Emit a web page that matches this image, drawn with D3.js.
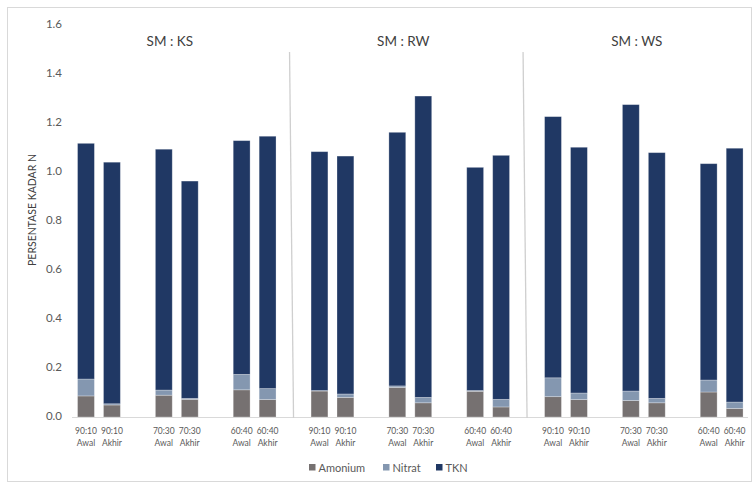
<!DOCTYPE html>
<html>
<head>
<meta charset="utf-8">
<script src="https://cdn.jsdelivr.net/npm/d3@7"></script>
<style>
  html, body { margin: 0; padding: 0; background: #fff; }
  svg { display: block; font-family: Lato, "Open Sans", "Liberation Sans", sans-serif; }
</style>
</head>
<body>
<svg id="chart" width="755" height="486"></svg>
<script>
// Media groups and treatment labels
const groups = ["SM : KS", "SM : RW", "SM : WS"];
const ratios = ["90:10", "90:10", "70:30", "70:30", "60:40", "60:40"];
const phases = ["Awal", "Akhir", "Awal", "Akhir", "Awal", "Akhir"];
const seriesNames = ["Amonium", "Nitrat", "TKN"];

// Stacked segment values (% N), 6 bars per group, groups in order KS, RW, WS
const amonium = [0.086, 0.049, 0.089, 0.072, 0.111, 0.071,
                 0.106, 0.080, 0.121, 0.058, 0.105, 0.041,
                 0.083, 0.071, 0.067, 0.058, 0.102, 0.035];
const nitrat  = [0.069, 0.005, 0.021, 0.004, 0.063, 0.045,
                 0.002, 0.014, 0.006, 0.022, 0.003, 0.031,
                 0.077, 0.027, 0.039, 0.018, 0.049, 0.026];
const tkn     = [0.962, 0.986, 0.983, 0.887, 0.954, 1.030,
                 0.975, 0.971, 1.035, 1.230, 0.911, 0.996,
                 1.066, 1.003, 1.169, 1.003, 0.883, 1.036];
const yTicks = [0, 0.2, 0.4, 0.6, 0.8, 1.0, 1.2, 1.4, 1.6];

const colors = { Amonium: "#767171", Nitrat: "#8497B0", TKN: "#203864" };

// Build the category slots: pairs of bars separated by empty slots,
// with an empty slot (holding the divider) between groups.
const slots = [];
const bars = [];
const dividerSlots = [];
groups.forEach((g, gi) => {
  ratios.forEach((r, j) => {
    const i = gi * 6 + j;
    const id = "b" + i;
    slots.push(id);
    bars.push({ id, group: g, ratio: r, phase: phases[j],
      Amonium: amonium[i], Nitrat: nitrat[i], TKN: tkn[i] });
    if (j % 2 === 1 && j < 5) slots.push("gap" + gi + "_" + j);
  });
  if (gi < groups.length - 1) {
    const d = "div" + gi;
    slots.push(d);
    dividerSlots.push(d);
  }
});

const svg = d3.select("#chart");
const W = 755, H = 486;

// Outer frame
svg.append("rect")
  .attr("x", 7.5).attr("y", 7.5)
  .attr("width", 744).attr("height", 474)
  .attr("fill", "none").attr("stroke", "#d9d9d9").attr("stroke-width", 1);

const x = d3.scaleBand()
  .domain(slots)
  .range([73, 747.6])
  .paddingInner(0.35)
  .paddingOuter(0.175);

const y = d3.scaleLinear().domain([0, 1.6]).range([417, 25]);

// Y axis labels
const yAxis = svg.append("g").attr("transform", "translate(62,0)")
  .call(d3.axisLeft(y).tickValues(yTicks).tickFormat(d3.format(".1f")).tickSize(0).tickPadding(0));
yAxis.select(".domain").remove();
yAxis.selectAll("text")
  .attr("fill", "#595959")
  .attr("font-size", "11.5px")
  .attr("dy", "0.2em")
  .attr("font-family", "Lato, 'Open Sans', sans-serif");

// Y axis title
svg.append("text")
  .attr("transform", "translate(36,210) rotate(-90)")
  .attr("text-anchor", "middle")
  .attr("fill", "#404040")
  .attr("font-size", "10.5px")
  .text("PERSENTASE KADAR N");

// Stacked bars
const stack = d3.stack().keys(seriesNames);
const stacked = stack(bars);
svg.append("g").selectAll("g")
  .data(stacked)
  .join("g")
  .attr("fill", d => colors[d.key])
  .selectAll("rect")
  .data(d => d)
  .join("rect")
  .attr("x", d => x(d.data.id))
  .attr("width", x.bandwidth())
  .attr("y", d => y(d[1]))
  .attr("height", d => y(d[0]) - y(d[1]))
  .attr("stroke", "#ffffff")
  .attr("stroke-opacity", 0.35)
  .attr("stroke-width", 0.8);

// Baseline
svg.append("line")
  .attr("x1", 72).attr("x2", 748)
  .attr("y1", y(0) + 0.5).attr("y2", y(0) + 0.5)
  .attr("stroke", "#d9d9d9").attr("stroke-width", 1);

// Category labels (two lines)
const xl = svg.append("g").selectAll("text")
  .data(bars)
  .join("text")
  .attr("x", d => x(d.id) + x.bandwidth() / 2)
  .attr("y", 434)
  .attr("text-anchor", "middle")
  .attr("fill", "#595959")
  .attr("font-size", "8.5px");
xl.append("tspan").attr("x", d => x(d.id) + x.bandwidth() / 2).text(d => d.ratio);
xl.append("tspan").attr("x", d => x(d.id) + x.bandwidth() / 2).attr("dy", 11.5).text(d => d.phase);

// Group dividers
svg.append("g").selectAll("line")
  .data(dividerSlots)
  .join("line")
  .attr("x1", d => x(d) + x.bandwidth() / 2 - 4)
  .attr("x2", d => x(d) + x.bandwidth() / 2)
  .attr("y1", 52)
  .attr("y2", y(0) + 1)
  .attr("stroke", "#cfcfcf").attr("stroke-width", 1.3);

// Group titles
svg.append("g").selectAll("text")
  .data(groups)
  .join("text")
  .attr("x", (g, gi) => {
    const first = x("b" + gi * 6), last = x("b" + (gi * 6 + 5)) + x.bandwidth();
    return (first + last) / 2 - 7;
  })
  .attr("y", 46)
  .attr("text-anchor", "middle")
  .attr("fill", "#404040")
  .attr("font-size", "13.5px")
  .text(d => d);

// Legend
const legendX = [309, 383, 436];
const lg = svg.append("g").selectAll("g")
  .data(seriesNames)
  .join("g")
  .attr("transform", (d, i) => `translate(${legendX[i]},468)`);
lg.append("rect").attr("x", 0).attr("y", -4).attr("width", 6.5).attr("height", 6.5)
  .attr("fill", d => colors[d]);
lg.append("text").attr("x", 9.5).attr("y", 3.5)
  .attr("fill", "#595959").attr("font-size", "11px").text(d => d);
</script>
</body>
</html>
